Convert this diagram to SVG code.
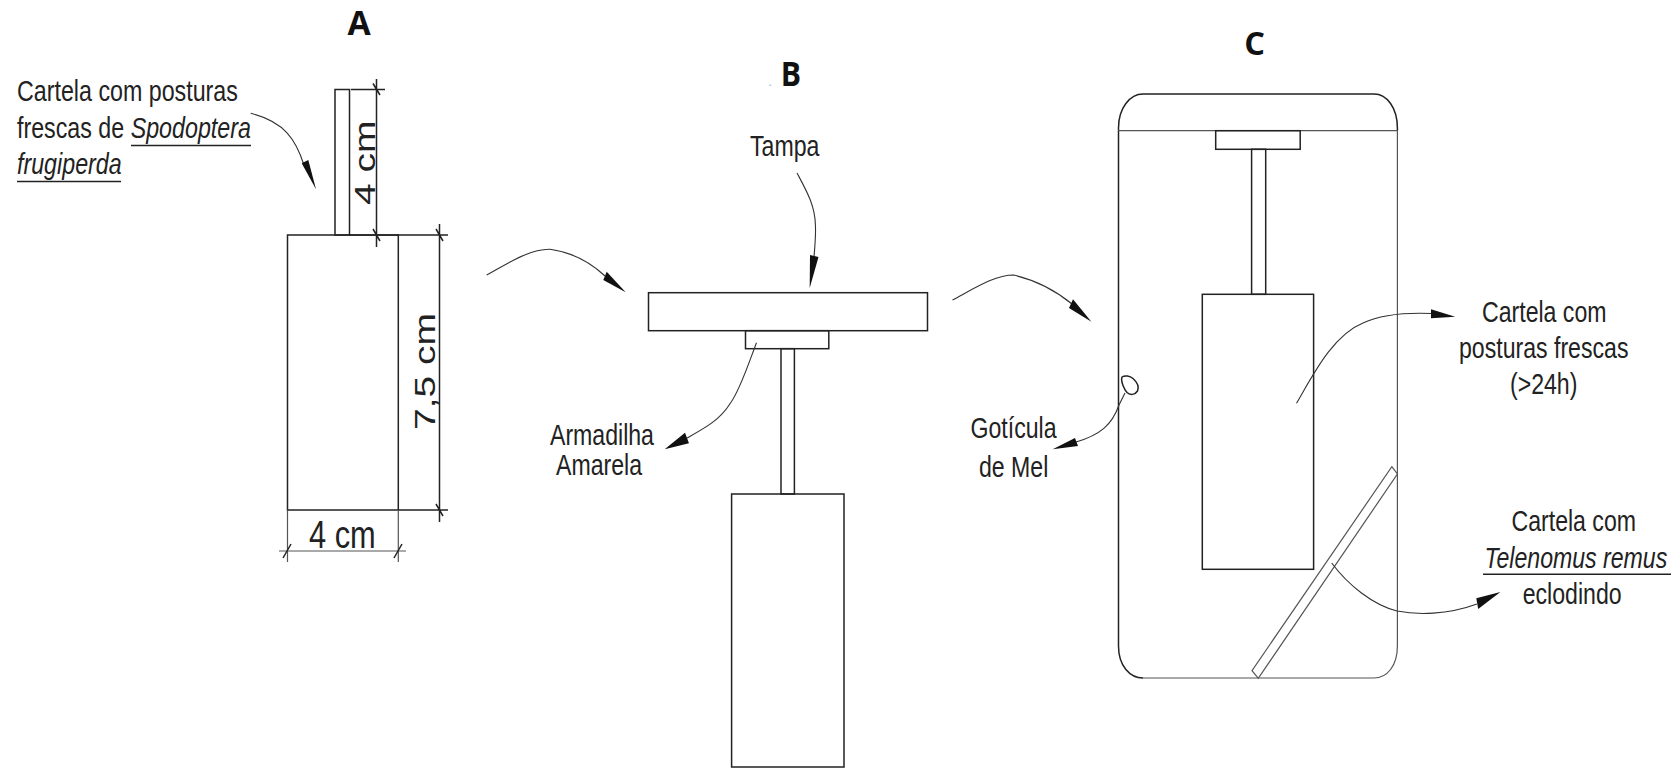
<svg xmlns="http://www.w3.org/2000/svg" width="1679" height="768" viewBox="0 0 1679 768">
<style>
.s{fill:none;stroke:#222;stroke-width:1.5}
.g{fill:none;stroke:#555;stroke-width:1.2}
.c{fill:none;stroke:#333;stroke-width:1.1}
.h{fill:#111;stroke:none}
.t{font-family:"Liberation Sans",Arial,sans-serif;font-size:30px;fill:#222}
.d{font-family:"Liberation Sans",Arial,sans-serif;fill:#222}
.b{font-family:"Open Sans",sans-serif;font-weight:700;fill:#111;text-anchor:middle}
.i{font-style:italic}
</style>
<rect width="1679" height="768" fill="#fff"/>
<g id="node-a">
<text class="b" font-size="33.6" transform="translate(359,34.5)">A</text>
<text class="t" transform="translate(17,100.500) scale(.775,1)">Cartela com posturas</text>
<text class="t" transform="translate(17,137.500) scale(.775,1)">frescas de <tspan class="i">Spodoptera</tspan></text>
<text class="t i" transform="translate(17,174) scale(.775,1)">frugiperda</text>
<path class="s" d="M131 145.500H251M17 181.500H121"/>
<rect class="s" x="335" y="89.500" width="14.500" height="145.500"/>
<rect class="s" x="287.500" y="235" width="110.800" height="275"/>
<path class="s" d="M351 89.500H385M376.500 79V247M373 83.500L380 95M373 229L380 241M349.500 235H448M439.500 224V522M436 229L443 241M398.300 510H448M436 504L443 516"/>
<path class="g" d="M287.500 510V562M398.300 510V562M279 551H406"/>
<path class="s" d="M283 558L291 544M394 558L402 544"/>
<text class="d" font-size="30" transform="translate(375,205) rotate(-90) scale(1.3,1)">4 cm</text>
<text class="d" font-size="30" transform="translate(435,430) rotate(-90) scale(1.3,1)">7,5 cm</text>
<text class="d" font-size="39" transform="translate(309,548) scale(.79,1)">4 cm</text>
</g>
<g id="node-b">
<text class="b" font-size="33.6" transform="translate(791,86) scale(.9,1)">B</text>
<rect x="769.500" y="84.500" width="1.500" height="1.500" fill="#8cc8f0"/>
<text class="t" transform="translate(750,156) scale(.77,1)">Tampa</text>
<rect class="s" x="648.500" y="292.700" width="279" height="38"/>
<rect class="s" x="745.500" y="330.700" width="83.300" height="18"/>
<rect class="s" x="781" y="348.700" width="13.400" height="145.300"/>
<rect class="s" x="731.600" y="494" width="112.400" height="273"/>
<text class="t" transform="translate(550,444.500) scale(.77,1)">Armadilha</text>
<text class="t" transform="translate(556,475) scale(.77,1)">Amarela</text>
</g>
<g id="node-c">
<text class="b" font-size="32.6" transform="translate(1254.600,55)">C</text>
<path class="s" d="M1118.500 130.700V128C1118.500 108 1130 94 1143 94H1374C1387 94 1397.400 108 1397.400 128V130.700"/>
<path class="s" d="M1118.500 130.700V646C1118.500 666 1130 678 1143 678"/>
<path class="g" d="M1143 678H1374C1387 678 1397.400 666 1397.400 646V130.700M1118.500 130.700H1397.400"/>
<rect class="s" x="1215.700" y="130.700" width="84.500" height="18.600"/>
<rect class="s" x="1251.600" y="149.300" width="14.100" height="145"/>
<rect class="s" x="1202.300" y="294.300" width="111.300" height="275"/>
<path class="g" d="M1391.800 466.700L1397.400 474L1258.300 678.300L1252 670.700Z"/>
<path class="s" d="M1122 377C1125 375 1130 376 1133 378.500C1137 382 1139 387 1137.500 391C1135 395 1130 395.500 1127 392.500C1124 389 1120.500 381 1122 377Z"/>
<text class="t" transform="translate(1482,321.700) scale(.77,1)">Cartela com</text>
<text class="t" transform="translate(1459,358) scale(.77,1)">posturas frescas</text>
<text class="t" transform="translate(1510,394) scale(.77,1)">(&gt;24h)</text>
<text class="t" transform="translate(1511.500,531) scale(.77,1)">Cartela com</text>
<text class="t i" transform="translate(1484.500,567.700) scale(.77,1)">Telenomus remus</text>
<path class="s" d="M1483 574.300H1671"/>
<text class="t" transform="translate(1522.700,604) scale(.77,1)">eclodindo</text>
<text class="t" transform="translate(970.500,438) scale(.77,1)">Gotícula</text>
<text class="t" transform="translate(979,476.500) scale(.77,1)">de Mel</text>
</g>
<g id="connectors">
<path class="c" d="M250.700 113.300C285 122 296 140 304 165"/>
<polygon class="h" points="316,189.300 301.700,163.300 308.300,160"/>
<path class="c" d="M486.700 275C510 262 530 249 550 249.300C570 252 590 262 605 276"/>
<polygon class="h" points="625.700,292.300 606.700,271.700 603.300,280"/>
<path class="c" d="M797 173C806 190 815 205 815.400 225C816 235 815 245 814 257"/>
<polygon class="h" points="809.700,288 810,255 818.500,257"/>
<path class="c" d="M756.500 342.700C748 365 740 390 730.500 403C720 420 705 428 687 438"/>
<polygon class="h" points="664.700,449.300 685,432.700 689,443.300"/>
<path class="c" d="M952.500 300C975 288 995 275 1013.700 275C1035 280 1055 290 1072 304"/>
<polygon class="h" points="1091.400,321.700 1073,299.300 1069,308"/>
<path class="c" d="M1125 393L1119 405C1112 425 1100 435 1076 442"/>
<polygon class="h" points="1052.700,449.300 1075,438 1078,446"/>
<path class="c" d="M1296.500 403.300C1313 375 1333 335 1363 323C1378 316 1398 312 1432 313.500"/>
<polygon class="h" points="1455.200,316.700 1431,309.300 1431,318.300"/>
<path class="c" d="M1331.700 563C1348 585 1373 605 1397 611C1417 615 1447 615 1477 604"/>
<polygon class="h" points="1500.400,592 1476.300,598.300 1478.200,609"/>
</g>
</svg>
